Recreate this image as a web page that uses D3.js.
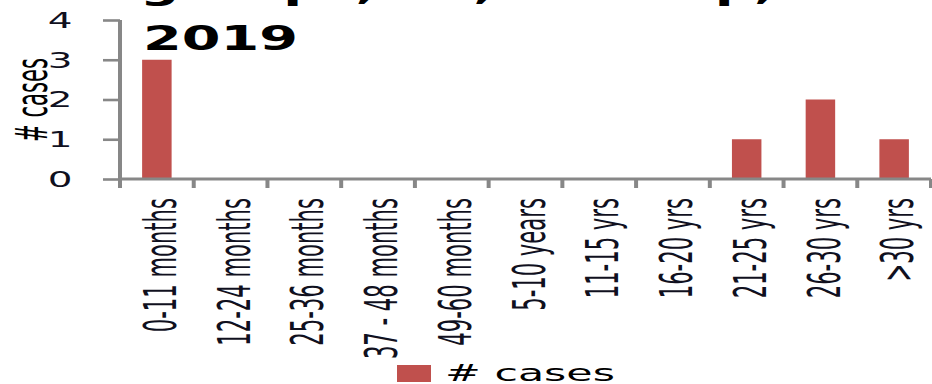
<!DOCTYPE html>
<html>
<head>
<meta charset="utf-8">
<script src="https://cdn.jsdelivr.net/npm/d3@7"></script>
<style>
  html, body { margin: 0; padding: 0; background: #fff; overflow: hidden; }
  svg { display: block; }
</style>
</head>
<body>
<div id="chart"></div>
<script>
// Age groups and case counts
const categories = ["0-11 months", "12-24 months", "25-36 months", "37 - 48 months", "49-60 months",
                    "5-10 years", "11-15 yrs", "16-20 yrs", "21-25 yrs", "26-30 yrs", ">30 yrs"];
const cases = [3, 0, 0, 0, 0, 0, 0, 0, 1, 2, 1];
const yTicks = [0, 1, 2, 3, 4];
const titleLines = ["groups, TC, Wardup,", "2019"];
const seriesName = "# cases";

const W = 932, H = 384;
const sx = 1.9;              // horizontal stretch of the drawing
const LW = W / sx;           // logical width

const svg = d3.select("#chart").append("svg")
  .attr("width", W).attr("height", H)
  .attr("viewBox", `0 0 ${LW} ${H}`)
  .attr("preserveAspectRatio", "none");

const axisColor = "#878787";
const barColor = "#C0504D";

const x = d3.scaleBand()
  .domain(categories)
  .range([120 / sx, 931 / sx])
  .paddingInner(0.6)
  .paddingOuter(0.3);

const y = d3.scaleLinear().domain([0, 4]).range([179, 20]);

// title
const title = svg.append("g").attr("font-family", "DejaVu Sans, Verdana, sans-serif")
  .attr("font-weight", "bold").attr("font-size", 33).attr("fill", "#000");
title.append("text").attr("x", 140 / sx).attr("y", -1)
  .attr("textLength", 635 / sx).attr("lengthAdjust", "spacingAndGlyphs")
  .text(titleLines[0]);
title.append("text").attr("x", 143 / sx).attr("y", 50)
  .attr("textLength", 155 / sx).attr("lengthAdjust", "spacingAndGlyphs")
  .text(titleLines[1]);

// bars
svg.append("g").selectAll("rect").data(categories).join("rect")
  .attr("x", d => x(d))
  .attr("width", x.bandwidth())
  .attr("y", (d, i) => y(cases[i]))
  .attr("height", (d, i) => y(0) - y(cases[i]))
  .attr("fill", barColor);

// y axis
const yAxis = svg.append("g")
  .attr("transform", `translate(${x.range()[0]},0)`)
  .call(d3.axisLeft(y).tickValues(yTicks).tickFormat(d3.format("d"))
    .tickSize(17 / sx).tickPadding(16).tickSizeOuter(0));
yAxis.select(".domain").remove();
yAxis.selectAll(".tick line").attr("stroke", axisColor).attr("stroke-width", 2.6);
yAxis.selectAll(".tick text")
  .attr("font-family", "DejaVu Sans, Verdana, sans-serif")
  .attr("font-size", 20.5).attr("fill", "#10101e")
  .attr("dy", "0.36em");
yAxis.append("line")
  .attr("x1", 0).attr("x2", 0).attr("y1", y(4)).attr("y2", y(0) + 9)
  .attr("stroke", axisColor).attr("stroke-width", 2.1);

// x axis: labels under band centres, tick marks on band boundaries
const xAxis = svg.append("g").attr("transform", `translate(0,${y(0)})`)
  .call(d3.axisBottom(x).tickSize(0).tickPadding(0));
xAxis.select(".domain").remove();
xAxis.append("line")
  .attr("x1", x.range()[0]).attr("x2", x.range()[1])
  .attr("y1", 0).attr("y2", 0)
  .attr("stroke", axisColor).attr("stroke-width", 2.8);
const half = (x.step() - x.bandwidth()) / 2;
const bounds = categories.map(d => x(d) - half).concat([x(categories[categories.length - 1]) + x.bandwidth() + half]);
xAxis.selectAll(".bound").data(bounds).join("line")
  .attr("class", "bound")
  .attr("x1", d => d).attr("x2", d => d)
  .attr("y1", 0).attr("y2", 9)
  .attr("stroke", axisColor).attr("stroke-width", 2.1);
xAxis.selectAll(".tick text")
  .attr("font-family", "DejaVu Sans Condensed, DejaVu Sans, sans-serif")
  .style("font-stretch", "condensed")
  .attr("font-size", 23.5).attr("fill", "#10101e")
  .attr("text-anchor", "end")
  .attr("x", 0).attr("y", 0)
  .attr("dy", "0.36em")
  .attr("transform", `translate(${3 / sx},19) rotate(-90)`);

// y axis title
svg.append("text")
  .attr("transform", `translate(${47 / sx},100) rotate(-90)`)
  .attr("text-anchor", "middle")
  .attr("font-family", "DejaVu Sans Condensed, DejaVu Sans, sans-serif")
  .style("font-stretch", "condensed")
  .attr("font-size", 23.5).attr("fill", "#000")
  .text(seriesName);

// legend
const legend = svg.append("g");
legend.append("rect")
  .attr("x", 397 / sx).attr("y", 365)
  .attr("width", 34 / sx).attr("height", 17)
  .attr("fill", barColor);
legend.append("text")
  .attr("x", 445 / sx).attr("y", 381)
  .attr("font-family", "DejaVu Sans, Verdana, sans-serif")
  .attr("font-size", 22.5).attr("fill", "#000")
  .text(seriesName);
</script>
</body>
</html>
